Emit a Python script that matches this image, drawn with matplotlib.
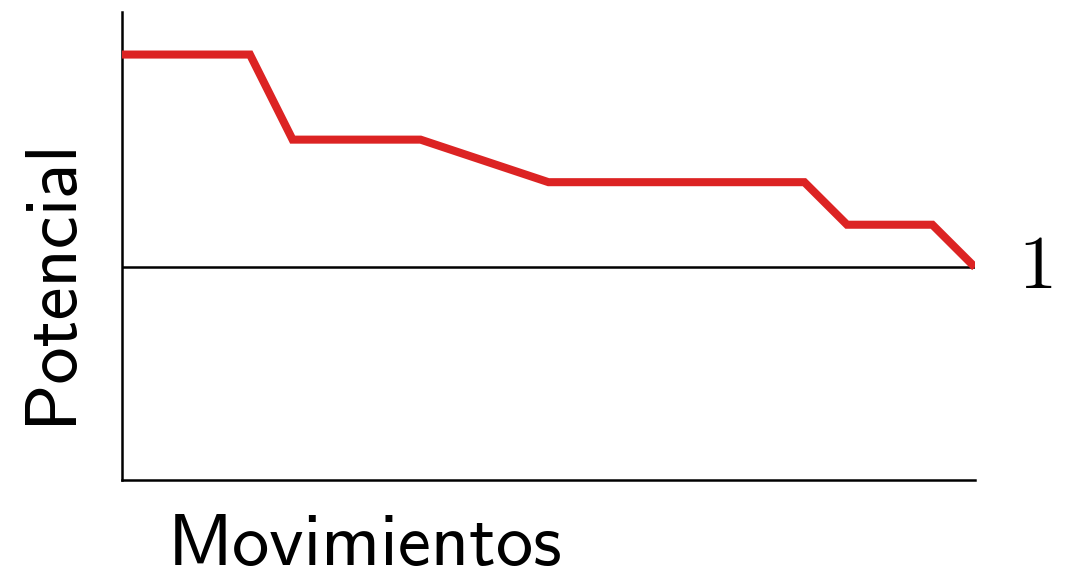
import matplotlib
matplotlib.use("Agg")
import matplotlib.pyplot as plt

# Movimientos vs potencial
movimientos = [0, 3, 4, 7, 10, 16, 17, 19, 20]
potencial = [6, 6, 4, 4, 3, 3, 2, 2, 1]
nivel_final = 1
etiqueta_nivel = "1"

W, H = 1071, 572
fig = plt.figure(figsize=(W / 100, H / 100), dpi=100)
ax = fig.add_axes([122 / W, 1 - 480 / H, (975 - 122) / W, (480 - 12) / H])

rojo = "#dc2323"
ax.plot(movimientos, potencial, color=rojo, lw=5.8, solid_joinstyle="miter",
        solid_capstyle="butt", zorder=3)
ax.axhline(nivel_final, color="black", lw=1.8, zorder=2)

ax.set_xlim(0, 20)
ax.set_ylim(-4, 7)
ax.set_xticks([])
ax.set_yticks([])
for s in ["top", "right"]:
    ax.spines[s].set_visible(False)
for s in ["left", "bottom"]:
    ax.spines[s].set_linewidth(1.8)

ax.text(21.0, nivel_final, "$" + etiqueta_nivel + "$", fontsize=55,
        ha="left", va="center", math_fontfamily="cm")

fig.text(168 / W, 1 - 565 / H, "Movimientos", fontfamily="cmss10",
         fontsize=53.5, ha="left", va="baseline")
fig.text(52 / W, 1 - 281 / H, "Potencial", fontfamily="cmss10",
         fontsize=53.5, ha="center", va="center", rotation=90)

fig.savefig("out.png", dpi=100)
